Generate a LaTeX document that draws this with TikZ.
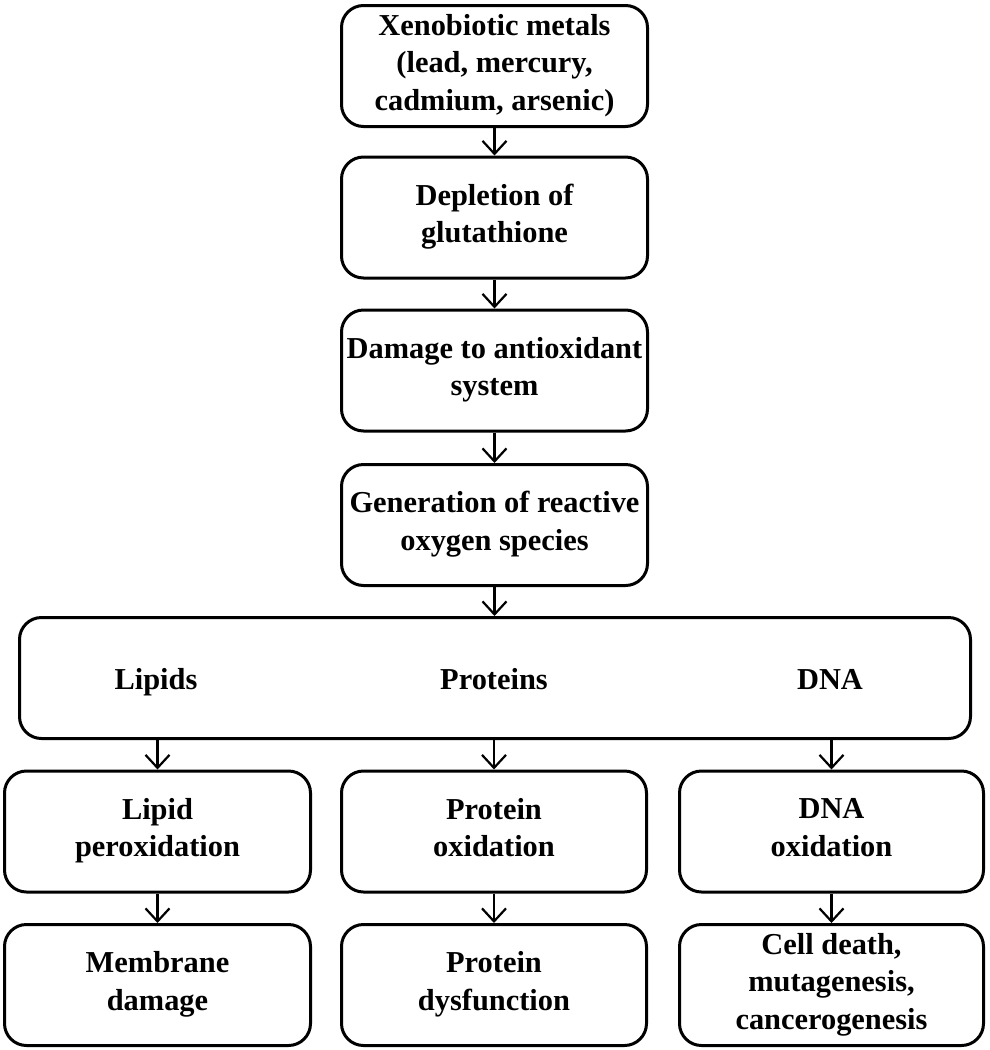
\documentclass[tikz,border=0pt]{standalone}
\usepackage{fontspec}
\setmainfont{Liberation Serif}
\usetikzlibrary{arrows.meta}
\newcommand\mystrut{\rule[-8pt]{0pt}{45pt}}
\begin{document}
\begin{tikzpicture}[x=1pt,y=-1pt,
  box/.style={draw=black, line width=3pt, rounded corners=22pt, fill=white,
    minimum width=306pt, minimum height=121pt, inner sep=2pt, align=center,
    font=\fontsize{30.4}{37.5}\selectfont\bfseries,
    execute at begin node=\mystrut, execute at end node=\mystrut},
  lbl/.style={inner sep=0pt, anchor=base, font=\fontsize{30.4}{37.5}\selectfont\bfseries},
  arr/.style={line width=2.5pt, -{Straight Barb[length=13pt,width=24pt,line width=2.2pt]}}]
\useasboundingbox (0,0) rectangle (989,1050);
\node[box] (b1) at (494.5,66) {Xenobiotic metals\\(lead, mercury,\\cadmium, arsenic)};
\node[box] (b2) at (494.5,217.5) {Depletion of\\glutathione};
\node[box] (b3) at (494.5,370.5) {Damage to antioxidant\\system};
\node[box] (b4) at (494.5,525) {Generation of reactive\\oxygen species};
\node[box, minimum width=951pt] (w) at (495,678) {};
\node[lbl] (lip) at (156,689) {Lipids};
\node[lbl] (pro) at (494,689) {Proteins};
\node[lbl] (dna) at (830,689) {DNA};
\node[box] (l1) at (157.5,831.5) {Lipid\\peroxidation};
\node[box, minimum width=305pt] (m1) at (494,831.5) {Protein\\oxidation};
\node[box, minimum width=304pt] (r1) at (831.5,831.5) {DNA\\oxidation};
\node[box] (l2) at (157.5,985) {Membrane\\damage};
\node[box, minimum width=305pt] (m2) at (494,985) {Protein\\dysfunction};
\node[box, minimum width=304pt] (r2) at (831.5,985) {Cell death,\\mutagenesis,\\cancerogenesis};
\draw[arr] (b1.south) -- (b2.north);
\draw[arr] (b2.south) -- (b3.north);
\draw[arr] (b3.south) -- (b4.north);
\draw[arr] (b4.south) -- (w.north -| b4.south);
\draw[arr] (w.south -| l1.north) -- (l1.north);
\draw[arr] (w.south -| m1.north) -- (m1.north);
\draw[arr] (w.south -| r1.north) -- (r1.north);
\draw[arr] (l1.south) -- (l2.north);
\draw[arr] (m1.south) -- (m2.north);
\draw[arr] (r1.south) -- (r2.north);
\end{tikzpicture}
\end{document}
